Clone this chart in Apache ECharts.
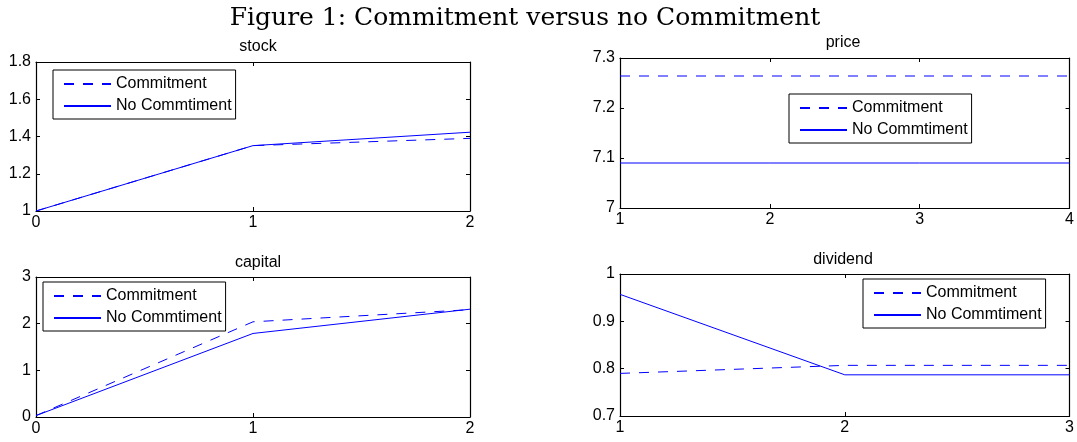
<!DOCTYPE html>
<html>
<head>
<meta charset="utf-8">
<script src="https://cdn.jsdelivr.net/npm/echarts@6/dist/echarts.min.js"></script>
<style>
    html, body { margin: 0; padding: 0; background: #ffffff; }
    #chart { width: 1077px; height: 442px; }
</style>
</head>
<body>
<div id="chart"></div>
<script>
// data
const seriesNames = ['Commitment', 'No Commtiment'];

const stockX = [0, 1, 2];
const stockCommit = [1, 1.351, 1.39];
const stockNoCommit = [1, 1.351, 1.423];

const priceX = [1, 2, 3, 4];
const priceCommit = [7.264, 7.264, 7.264, 7.264];
const priceNoCommit = [7.09, 7.09, 7.09, 7.09];

const capitalX = [0, 1, 2];
const capitalCommit = [0.03, 2.04, 2.3];
const capitalNoCommit = [0.03, 1.79, 2.31];

const dividendX = [1, 2, 3];
const dividendCommit = [0.79, 0.807, 0.807];
const dividendNoCommit = [0.957, 0.787, 0.787];

const font = '"Liberation Sans", Arial, sans-serif';
const blue = '#0000ff';

const panels = [
    { title: 'stock', x: stockX, a: stockCommit, b: stockNoCommit, xMin: 0, xMax: 2, yMin: 1, yMax: 1.8, yStep: 0.2,
      grid: { left: 36, top: 62, width: 434, height: 149 }, titleTop: 34, titleX: 253, legend: { left: 53, top: 70 } },
    { title: 'price', x: priceX, a: priceCommit, b: priceNoCommit, xMin: 1, xMax: 4, yMin: 7, yMax: 7.3, yStep: 0.1,
      grid: { left: 620, top: 58, width: 452, height: 150 }, titleTop: 30, titleX: 838, legend: { left: 789, top: 94 } },
    { title: 'capital', x: capitalX, a: capitalCommit, b: capitalNoCommit, xMin: 0, xMax: 2, yMin: 0, yMax: 3, yStep: 1,
      grid: { left: 36, top: 277, width: 434, height: 140 }, titleTop: 250, titleX: 253, legend: { left: 43, top: 282 } },
    { title: 'dividend', x: dividendX, a: dividendCommit, b: dividendNoCommit, xMin: 1, xMax: 3, yMin: 0.7, yMax: 1, yStep: 0.1,
      grid: { left: 620, top: 274, width: 452, height: 142 }, titleTop: 247, titleX: 838, legend: { left: 863, top: 279 } }
];

const tick = () => ({ show: true, inside: true, length: 4, lineStyle: { color: '#000', width: 1 } });
const axisLine = () => ({ show: true, onZero: false, lineStyle: { color: '#000', width: 1.2 } });
const label = { color: '#000', fontSize: 16, fontFamily: font };

let option = {
    backgroundColor: '#ffffff',
    animation: false,
    title: [{
        text: 'Figure 1: Commitment versus no Commitment',
        left: 520,
        top: 1,
        textAlign: 'center',
        textStyle: { fontFamily: '"DejaVu Serif", serif', fontWeight: 'normal', fontSize: 25, color: '#000' }
    }],
    grid: [],
    xAxis: [],
    yAxis: [],
    legend: [],
    series: []
};

panels.forEach((p, i) => {
    option.title.push({
        text: p.title,
        left: p.titleX,
        top: p.titleTop,
        textAlign: 'center',
        textStyle: { fontFamily: font, fontWeight: 'normal', fontSize: 16, color: '#000' }
    });
    option.grid.push(p.grid);
    // bottom and top x axes
    option.xAxis.push({
        type: 'value', gridIndex: i, position: 'bottom', min: p.xMin, max: p.xMax, interval: 1,
        axisLine: axisLine(), axisTick: tick(), splitLine: { show: false },
        axisLabel: Object.assign({ margin: 4 }, label)
    });
    option.xAxis.push({
        type: 'value', gridIndex: i, position: 'top', min: p.xMin, max: p.xMax, interval: 1,
        axisLine: axisLine(), axisTick: tick(), splitLine: { show: false }, axisLabel: { show: false }
    });
    // left and right y axes
    option.yAxis.push({
        type: 'value', gridIndex: i, position: 'left', min: p.yMin, max: p.yMax, interval: p.yStep,
        axisLine: axisLine(), axisTick: tick(), splitLine: { show: false },
        axisLabel: Object.assign({ margin: 5 }, label)
    });
    option.yAxis.push({
        type: 'value', gridIndex: i, position: 'right', min: p.yMin, max: p.yMax, interval: p.yStep,
        axisLine: axisLine(), axisTick: tick(), splitLine: { show: false }, axisLabel: { show: false }
    });
    option.legend.push({
        data: seriesNames,
        orient: 'vertical',
        left: p.legend.left,
        top: p.legend.top,
        padding: [6, 4, 5, 10],
        itemGap: 6,
        itemWidth: 47,
        itemHeight: 14,
        itemStyle: { opacity: 0 },
        backgroundColor: '#ffffff',
        borderColor: '#000',
        borderWidth: 1,
        borderRadius: 0,
        selectedMode: false,
        textStyle: { fontFamily: font, fontSize: 16, color: '#000' }
    });
    option.series.push({
        name: seriesNames[0], type: 'line', xAxisIndex: i * 2, yAxisIndex: i * 2,
        symbol: 'none', z: 3, lineStyle: { color: blue, width: 1, type: [10, 9] }, itemStyle: { color: blue },
        data: p.x.map((x, k) => [x, p.a[k]])
    });
    option.series.push({
        name: seriesNames[1], type: 'line', xAxisIndex: i * 2, yAxisIndex: i * 2,
        symbol: 'none', z: 3, lineStyle: { color: blue, width: 1, type: 'solid' }, itemStyle: { color: blue },
        data: p.x.map((x, k) => [x, p.b[k]])
    });
});

const chartInit = () => {
    let myChart = echarts.init(document.getElementById('chart'));
    option && myChart.setOption(option);
}

chartInit();
</script>
</body>
</html>
